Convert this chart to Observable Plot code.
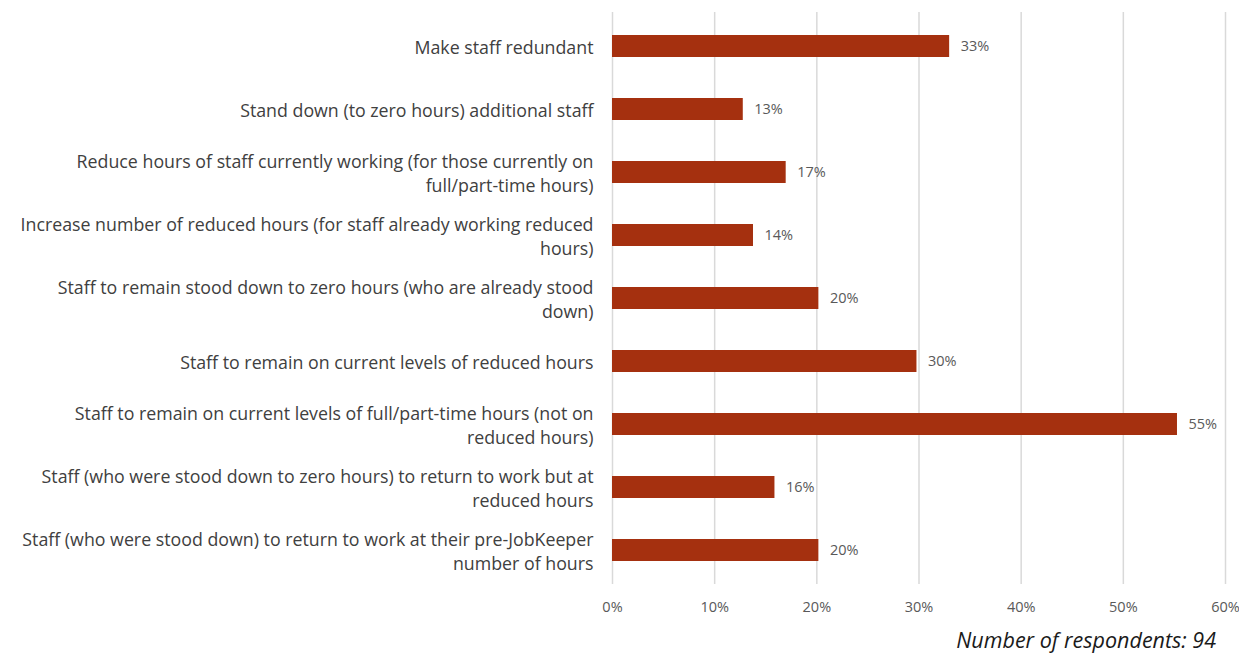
<!DOCTYPE html>
<html>
<head>
<meta charset="utf-8">
<script src="https://cdn.jsdelivr.net/npm/d3@7"></script>
<script src="https://cdn.jsdelivr.net/npm/@observablehq/plot@0.6"></script>
<style>
  html, body { margin: 0; padding: 0; background: #fff; }
  #chart { width: 1239px; }
  #caption { width: 1239px; box-sizing: border-box; padding-right: 23px; text-align: right;
    font-family: "Open Sans", sans-serif; font-style: italic; font-size: 21.5px; color: #1a1a1a; margin-top: 0px; line-height: 28px; }
</style>
</head>
<body>
<div id="chart"></div>
<div id="caption">Number of respondents: 94</div>
<script>
const categories = [
  "Make staff redundant",
  "Stand down (to zero hours) additional staff",
  "Reduce hours of staff currently working (for those currently on full/part-time hours)",
  "Increase number of reduced hours (for staff already working reduced hours)",
  "Staff to remain stood down to zero hours (who are already stood down)",
  "Staff to remain on current levels of reduced hours",
  "Staff to remain on current levels of full/part-time hours (not on reduced hours)",
  "Staff (who were stood down to zero hours) to return to work but at reduced hours",
  "Staff (who were stood down) to return to work at their pre-JobKeeper number of hours"
];
const tickLabels = [
  "Make staff redundant",
  "Stand down (to zero hours) additional staff",
  "Reduce hours of staff currently working (for those currently on\nfull/part-time hours)",
  "Increase number of reduced hours (for staff already working reduced\nhours)",
  "Staff to remain stood down to zero hours (who are already stood\ndown)",
  "Staff to remain on current levels of reduced hours",
  "Staff to remain on current levels of full/part-time hours (not on\nreduced hours)",
  "Staff (who were stood down to zero hours) to return to work but at\nreduced hours",
  "Staff (who were stood down) to return to work at their pre-JobKeeper\nnumber of hours"
];
const values = [0.330, 0.128, 0.170, 0.138, 0.202, 0.298, 0.553, 0.159, 0.202];
const xTicks = [0, 0.1, 0.2, 0.3, 0.4, 0.5, 0.6];

const data = categories.map((c, i) => ({category: c, value: values[i]}));
const labelMap = new Map(categories.map((c, i) => [c, tickLabels[i]]));

const chart = Plot.plot({
  width: 1239,
  height: 626,
  marginTop: 12,
  marginBottom: 42,
  marginLeft: 612,
  marginRight: 14,
  style: {fontFamily: "'Open Sans', sans-serif", background: "#fff"},
  x: {domain: [0, 0.6], ticks: xTicks, tickFormat: d => Math.round(d * 100) + "%"},
  y: {domain: categories, paddingInner: 0.65, paddingOuter: 0.325, label: null},
  marks: [
    Plot.gridX(xTicks, {stroke: "#d9d9d9", strokeOpacity: 1, strokeWidth: 1.5}),
    Plot.barX(data, {x: "value", y: "category", fill: "#a5300f"}),
    Plot.text(data, {x: "value", y: "category", text: d => Math.round(d.value * 100) + "%", dx: 11, textAnchor: "start", fill: "#595959", fontSize: 14.5}),
    Plot.axisX({ticks: xTicks, tickFormat: d => Math.round(d * 100) + "%", tickSize: 0, tickPadding: 17, fontSize: 14.5, color: "#595959", label: null}),
    Plot.axisY({tickSize: 0, tickPadding: 19, fontSize: 17.8, color: "#404040", tickFormat: d => labelMap.get(d), lineHeight: 1.35, label: null, textOverflow: null, lineWidth: Infinity})
  ]
});
document.getElementById("chart").appendChild(chart);
</script>
</body>
</html>
